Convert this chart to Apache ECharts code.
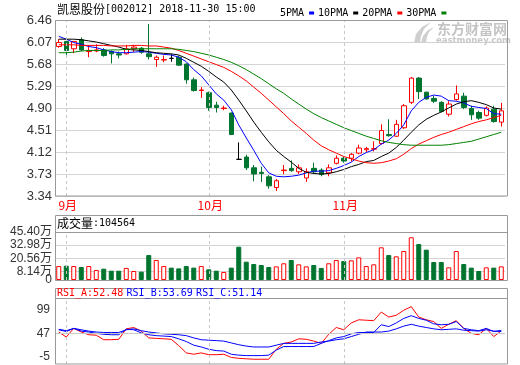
<!DOCTYPE html>
<html><head><meta charset="utf-8">
<script src="https://cdn.jsdelivr.net/npm/echarts@6/dist/echarts.min.js"></script>
<style>html,body{margin:0;padding:0;background:#fff}#c{width:520px;height:365px}</style>
</head><body><div id="c"></div>
<script>
// ---------- data ----------
const stockName = '凯恩股份';
const stockCode = '002012';
const quoteTime = '2018-11-30 15:00';
const lastVolume = 104564;

const dates = ['2018-08-31',
 '2018-09-03','2018-09-04','2018-09-05','2018-09-06','2018-09-07','2018-09-10','2018-09-11','2018-09-12','2018-09-13','2018-09-14',
 '2018-09-17','2018-09-18','2018-09-19','2018-09-20','2018-09-21','2018-09-25','2018-09-26','2018-09-27','2018-09-28',
 '2018-10-08','2018-10-09','2018-10-10','2018-10-11','2018-10-12','2018-10-15','2018-10-16','2018-10-17','2018-10-18','2018-10-19',
 '2018-10-22','2018-10-23','2018-10-24','2018-10-25','2018-10-26','2018-10-29','2018-10-30','2018-10-31',
 '2018-11-01','2018-11-02','2018-11-05','2018-11-06','2018-11-07','2018-11-08','2018-11-09','2018-11-12','2018-11-13','2018-11-14',
 '2018-11-15','2018-11-16','2018-11-19','2018-11-20','2018-11-21','2018-11-22','2018-11-23','2018-11-26','2018-11-27','2018-11-28',
 '2018-11-29','2018-11-30'];

const monthStarts = ['2018-09-03','2018-10-08','2018-11-01'];
const monthNames  = ['9月','10月','11月'];

const open  = [5.99,6.08,5.95,6.11,5.90,5.91,5.93,5.90,5.86,5.86, 5.95,5.96,5.86,5.76,5.75,5.78,5.80,5.68,5.40,5.21,
               5.17,4.95,4.89,4.81,3.99,4.03,3.84,3.76,3.68,3.49, 3.79,3.83,3.77,3.66,3.83,3.80,3.75,3.92,4.01,4.01,
               4.10,4.16,4.17,4.27,4.43,4.40,4.55,5.00,5.43,5.18, 5.07,5.00,4.79,5.05,5.11,4.89,4.82,4.77,4.88,4.65];
const close = [6.06,5.92,6.08,5.93,5.91,5.93,5.83,5.86,5.84,5.95, 5.98,5.89,5.81,5.80,5.76,5.78,5.66,5.40,5.21,5.22,
               4.91,4.91,4.90,4.43,3.99,3.84,3.73,3.74,3.52,3.61, 3.80,3.79,3.84,3.77,3.77,3.72,3.84,4.01,3.96,4.08,
               4.19,4.18,4.18,4.50,4.41,4.61,4.94,5.43,5.19,5.06, 5.02,4.84,4.97,5.15,4.91,4.78,4.72,4.90,4.66,4.85];
const low   = [5.97,5.84,5.87,5.91,5.80,5.89,5.81,5.69,5.78,5.85, 5.89,5.86,5.76,5.63,5.71,5.72,5.65,5.33,5.19,5.08,
               4.85,4.82,4.86,4.42,3.99,3.80,3.60,3.59,3.47,3.43, 3.73,3.77,3.73,3.59,3.73,3.69,3.69,3.90,3.93,3.95,
               4.08,4.12,4.13,4.25,4.39,4.39,4.53,4.97,5.06,5.05, 4.99,4.82,4.75,5.03,4.88,4.69,4.69,4.75,4.64,4.57];
const high  = [6.12,6.09,6.08,6.15,6.01,6.03,5.96,5.92,5.90,6.02, 6.02,5.98,6.39,5.83,5.83,5.86,5.83,5.69,5.44,5.27,
               5.19,5.01,4.94,4.82,4.29,4.07,3.89,3.86,3.71,3.64, 3.89,3.97,3.90,3.83,3.93,3.83,3.90,4.06,4.04,4.10,
               4.25,4.21,4.31,4.61,4.70,4.69,4.97,5.45,5.45,5.19, 5.12,5.02,5.02,5.30,5.17,4.94,4.85,4.93,4.94,4.99];

const ma5  = [6.17,6.12,6.06,6.03,5.99,5.97,5.93,5.90,5.88,5.88, 5.89,5.90,5.89,5.87,5.85,5.84,5.80,5.72,5.58,5.47,
              5.31,5.15,5.04,4.87,4.60,4.37,4.15,3.92,3.75,3.69, 3.68,3.69,3.71,3.75,3.78,3.78,3.79,3.83,3.88,3.94,
              4.04,4.11,4.16,4.26,4.33,4.45,4.60,4.85,5.00,5.09, 5.13,5.11,5.03,5.02,4.99,4.93,4.91,4.89,4.80,4.79];
const ma10 = [6.12,6.12,6.12,6.11,6.09,6.07,6.04,6.01,5.98,5.94, 5.93,5.92,5.90,5.88,5.87,5.86,5.84,5.78,5.71,5.64,
              5.55,5.45,5.36,5.22,5.04,4.85,4.65,4.47,4.30,4.15, 4.04,3.94,3.83,3.76,3.74,3.73,3.74,3.77,3.81,3.86,
              3.90,3.95,3.97,4.04,4.10,4.20,4.33,4.47,4.60,4.70, 4.77,4.83,4.90,4.97,5.01,5.03,5.00,4.96,4.90,4.88];
const ma20 = [6.02,6.02,6.02,6.01,6.01,6.01,6.01,6.00,6.00,6.00, 6.01,6.01,6.00,6.00,5.98,5.96,5.92,5.87,5.82,5.77,
              5.72,5.67,5.62,5.55,5.47,5.38,5.27,5.16,5.04,4.92, 4.80,4.67,4.56,4.45,4.33,4.23,4.16,4.10,4.04,4.00,
              3.96,3.93,3.92,3.93,3.96,4.00,4.08,4.18,4.26,4.32, 4.38,4.43,4.47,4.52,4.57,4.62,4.66,4.69,4.73,4.77];
const ma30 = [5.88,5.88,5.89,5.91,5.92,5.92,5.92,5.93,5.93,5.94, 5.95,5.95,5.95,5.95,5.95,5.95,5.94,5.92,5.90,5.87,
              5.84,5.80,5.76,5.71,5.65,5.58,5.50,5.42,5.33,5.24, 5.16,5.06,4.97,4.88,4.80,4.73,4.67,4.61,4.55,4.50,
              4.45,4.40,4.36,4.32,4.29,4.27,4.25,4.24,4.24,4.24, 4.24,4.24,4.25,4.27,4.29,4.31,4.35,4.39,4.43,4.47];

// volume, in 万 (10k shares)
const vol = [13.2,13.5,13.2,12.3,13.2,9.5,10.7,8.8,8.8,11.4, 8.5,7.9,23.6,18.9,13.2,11.7,11.0,13.2,11.7,13.2,
             10.1,8.8,7.6,11.7,31.5,17.3,15.1,14.2,12.3,12.9, 15.8,18.9,14.8,12.9,14.2,11.4,15.8,18.9,18.0,18.6,
             21.4,13.2,14.8,30.9,23.6,22.4,27.4,40.4,34.0,28.7, 17.0,17.0,12.0,27.4,15.1,11.7,8.5,12.0,11.7,12.9];

const rsiA = [50,39,58,50,44,43,33,33,34,57, 60,52,37,36,35,34,20,4,1,4,
              0,0,1,-6,-8,-9,-10,-10,-10,12, 25,28,35,34,30,25,45,60,55,70,
              77,76,75,94,83,87,98,106,83,77, 73,58,67,75,58,47,44,58,40,52.48];
const rsiB = [55,51,58,52,50,47,45,44,44,56, 55,48,44,42,41,40,35,29,21,17,
              12,9,8,1,-1,-2,-2,-2,-1,10, 18,18,18,18,18,25,31,37,40,46,
              49,49,49,66,62,70,80,86,80,76, 68,66,67,73,58,55,53,58,51,53.69];
const rsiC = [56,53,58,55,52,50,49,49,49,55, 57,53,50,48,46,45,44,42,37,33,
              32,31,30,26,22,19,17,17,17,21, 25,25,25,25,25,28,30,33,35,40,
              45,50,50,50,52,57,63,67,63,60, 57,55,56,57,54,53,52,55,52,51.14];

const priceTicks = [3.34,3.73,4.12,4.51,4.90,5.29,5.68,6.07,6.46];
const volTicks = [0,8.14,20.56,32.98,45.40];
const volTickLabels = ['0','8.14万','20.56万','32.98万','45.40万'];
const rsiTicks = [-5,47,99];

// ---------- chart ----------
const chart = echarts.init(document.getElementById('c'), null, {renderer:'canvas', width:520, height:365});
const DOWN = '#00752f', UPC = '#ff0000';
const MONO = 'DejaVu Sans Mono';
const CJK = 'Noto Sans CJK SC';
const candleData = dates.map((d,i)=>[open[i],close[i],low[i],high[i]]);
const volData = vol.map((v,i)=> close[i] > open[i]
  ? {value:v, itemStyle:{color:'#fff', borderColor:UPC, borderWidth:1}}
  : {value:v, itemStyle:{color:DOWN, borderColor:DOWN, borderWidth:1}});
const dash = {color:'#c8c8c8', type:[3,3], width:1};
const monthMarks = monthStarts.map(d=>({xAxis:d}));
const mk = (extra) => ({silent:true, symbol:['none','none'], label:{show:false}, lineStyle:dash, animation:false,
  data: monthMarks.concat(extra||[])});

function xAx(gi, showLabel){
  return {type:'category', gridIndex:gi, data:dates, boundaryGap:true,
    axisLine:{show:false}, axisTick:{show:false}, splitLine:{show:false},
    axisLabel: showLabel ? {show:true, interval:(i,v)=>monthStarts.indexOf(v)>=0,
      formatter:v=>monthNames[monthStarts.indexOf(v)], color:'#ff0000', fontSize:12, fontFamily:CJK, margin:3,
      padding:[0,0,0,3], hideOverlap:false} : {show:false}};
}
const gridBase = {left:55, right:15, outerBoundsMode:'none', containLabel:false};
const volLabelFmt = v => volTickLabels[volTicks.indexOf(v)];
const volAxisBase = {type:'value', gridIndex:1, position:'left', offset:0,
  min:volTicks[0], max:volTicks[volTicks.length-1], axisLine:{show:false}};

const bStyle = {fill:'none', stroke:'#999', lineWidth:1};
const option = {
  animation:false,
  textStyle:{fontFamily:'Liberation Sans'},
  grid:[
    Object.assign({top:20, height:176}, gridBase),
    Object.assign({top:232, height:48}, gridBase),
    Object.assign({top:298, height:66}, gridBase)
  ],
  xAxis:[xAx(0,true), xAx(1,false), xAx(2,false)],
  yAxis:[
    {type:'value', gridIndex:0, min:priceTicks[0], max:priceTicks[priceTicks.length-1], scale:true,
     axisLine:{show:false}, axisTick:{show:false, customValues:priceTicks},
     axisLabel:{customValues:priceTicks, formatter:v=>v.toFixed(2), fontSize:13, color:'#333', margin:3, fontFamily:'Liberation Sans', hideOverlap:false},
     splitLine:{show:true, lineStyle:{color:'#d4d4d4', width:1}}},
    Object.assign({}, volAxisBase, {
     axisTick:{show:false, customValues:volTicks.slice(1)},
     axisLabel:{customValues:volTicks.slice(1), formatter:volLabelFmt, fontSize:12, color:'#333', margin:3,
       fontFamily:'Liberation Sans, '+CJK, hideOverlap:false},
     splitLine:{show:true, lineStyle:{color:'#d4d4d4', width:1}}}),
    {type:'value', gridIndex:2, min:-20.5, max:125,
     axisLine:{show:false}, axisTick:{show:false, customValues:rsiTicks},
     axisLabel:{customValues:rsiTicks, fontSize:12, color:'#333', margin:5, fontFamily:'Liberation Sans', hideOverlap:false},
     splitLine:{show:false}},
    Object.assign({}, volAxisBase, {
     axisTick:{show:false, customValues:volTicks.slice(0,1)},
     axisLabel:{customValues:volTicks.slice(0,1), formatter:volLabelFmt, fontSize:12, color:'#333', margin:3,
       fontFamily:'Liberation Sans', hideOverlap:false},
     splitLine:{show:false}})
  ],
  legend:{left:275, top:3, align:'right', icon:'rect', itemWidth:5, itemHeight:3, itemGap:4, selectedMode:false,
    textStyle:{fontFamily:MONO, fontSize:10, color:'#000'}, data:['5PMA','10PMA','20PMA','30PMA']},
  series:[
    {type:'candlestick', xAxisIndex:0, yAxisIndex:0, data:candleData, barWidth:5,
     itemStyle:{color:'#fff', color0:DOWN, borderColor:UPC, borderColor0:DOWN, borderColorDoji:'#000', borderWidth:1},
     markLine:mk()},
    {name:'5PMA', type:'line', data:ma5, showSymbol:false, symbol:'none', lineStyle:{width:1, color:'#0000ff'}, itemStyle:{color:'#0000ff'}},
    {name:'10PMA', type:'line', data:ma10, showSymbol:false, symbol:'none', lineStyle:{width:1, color:'#000000'}, itemStyle:{color:'#000000'}},
    {name:'20PMA', type:'line', data:ma20, showSymbol:false, symbol:'none', lineStyle:{width:1, color:'#ff0000'}, itemStyle:{color:'#ff0000'}},
    {name:'30PMA', type:'line', data:ma30, showSymbol:false, symbol:'none', lineStyle:{width:1, color:'#008000'}, itemStyle:{color:'#008000'}},
    {type:'bar', xAxisIndex:1, yAxisIndex:1, data:volData, barWidth:5, markLine:mk()},
    {type:'line', xAxisIndex:2, yAxisIndex:2, data:rsiA, showSymbol:false, symbol:'none', lineStyle:{width:1, color:'#ff0000'},
     markLine:mk([{yAxis:rsiTicks[1], lineStyle:{color:'#c8c8c8', type:'solid', width:1}}])},
    {type:'line', xAxisIndex:2, yAxisIndex:2, data:rsiB, showSymbol:false, symbol:'none', lineStyle:{width:1, color:'#0000ff'}},
    {type:'line', xAxisIndex:2, yAxisIndex:2, data:rsiC, showSymbol:false, symbol:'none', lineStyle:{width:1, color:'#0000ff'}}
  ],
  graphic:[
    {type:'rect', z:100, silent:true, shape:{x:55.5,y:20.5,width:452,height:175.5}, style:bStyle},
    {type:'rect', z:100, silent:true, shape:{x:55.5,y:215.5,width:452,height:65}, style:bStyle},
    {type:'line', z:100, silent:true, shape:{x1:55.5,y1:232.5,x2:507.5,y2:232.5}, style:{stroke:'#999', lineWidth:1}},
    {type:'rect', z:100, silent:true, shape:{x:55.5,y:288.5,width:452,height:75.5}, style:bStyle},
    {type:'line', z:100, silent:true, shape:{x1:55.5,y1:298.5,x2:507.5,y2:298.5}, style:{stroke:'#999', lineWidth:1}},
    {type:'text', z:100, silent:true, x:57, y:9, style:{
      text:'{c|'+stockName+'}{m|['+stockCode+'] '+quoteTime+'}', verticalAlign:'middle', align:'left',
      rich:{c:{fontFamily:CJK, fontSize:12, fill:'#000'}, m:{fontFamily:MONO, fontSize:10, fill:'#000'}}}},
    {type:'text', z:100, silent:true, x:57, y:223, style:{
      text:'{c|成交量}{m|:'+lastVolume+'}', verticalAlign:'middle', align:'left',
      rich:{c:{fontFamily:CJK, fontSize:12, fill:'#000'}, m:{fontFamily:MONO, fontSize:10, fill:'#000'}}}},
    {type:'text', z:100, silent:true, x:57, y:293.5, style:{
      text:'{r|RSI_A:'+rsiA[rsiA.length-1].toFixed(2)+'} {b|RSI_B:'+rsiB[rsiB.length-1].toFixed(2)+'} {b|RSI_C:'+rsiC[rsiC.length-1].toFixed(2)+'}',
      verticalAlign:'middle', align:'left',
      rich:{r:{fontFamily:MONO, fontSize:10, fill:'#ff0000'}, b:{fontFamily:MONO, fontSize:10, fill:'#0000ff'}}}},
    {type:'polygon', z:1, silent:true, shape:{points:[[414,43],[416,34],[422,27],[431,22],[424,29],[421,36],[420,43]]}, style:{fill:'#cfcfcf'}},
    {type:'polygon', z:1, silent:true, shape:{points:[[421,43],[423,36],[428,30],[434,27],[429,32],[427,37],[426,43]]}, style:{fill:'#cfcfcf'}},
    {type:'text', z:1, silent:true, x:437, y:29, style:{text:'东方财富网', fontFamily:CJK, fontSize:14, fontWeight:'bold', fill:'#c4c4c4', verticalAlign:'middle', align:'left'}},
    {type:'text', z:1, silent:true, x:436, y:40.5, style:{text:'eastmoney.com', fontFamily:'DejaVu Sans', fontSize:8.5, fontWeight:'bold', fill:'#c8c8c8', verticalAlign:'middle', align:'left'}}
  ]
};
chart.setOption(option);
</script></body></html>
